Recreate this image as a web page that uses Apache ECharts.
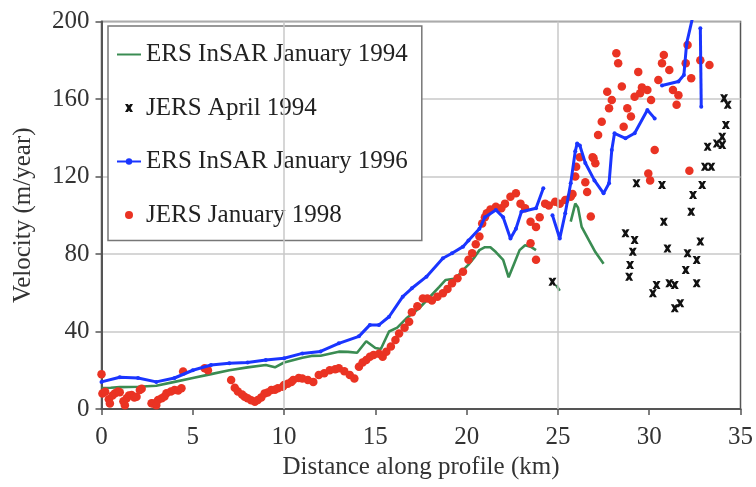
<!DOCTYPE html>
<html>
<head>
<meta charset="utf-8">
<script src="https://cdn.jsdelivr.net/npm/echarts@6/dist/echarts.min.js"></script>
<style>html,body{margin:0;padding:0;background:#fff}#chart{width:756px;height:487px}</style>
</head>
<body>
<div id="chart"></div>
<script>
// ---- axis ticks ----
const xTicks = [0, 5, 10, 15, 20, 25, 30, 35];
const yTicks = [0, 40, 80, 120, 160, 200];
const xGridLines = [10, 25];

// ---- series names ----
const names = ['ERS InSAR January 1994', 'JERS April 1994', 'ERS InSAR January 1996', 'JERS January 1998'];

// ---- ERS InSAR January 1994 (green line, three pieces) ----
const ers1994a = [[0,10.8],[0.5,11],[1,11.3],[2,11.5],[3,12],[4,14],[5,16],[6,18],[7,20],[8,21.5],[9,22.7],[9.5,21.5],[10,24],[11,26.5],[11.5,27.4],[12,27.5],[13,29.6],[13.5,29.5],[14,29],[14.5,35],[15,31.5],[15.3,31],[15.75,40],[16.2,42],[16.7,46.8],[17.4,52],[17.8,56],[18.5,63],[18.85,66.6],[19.4,67.4],[19.8,71.7],[20.1,74.5],[20.4,78],[20.7,82],[21,83.5],[21.3,83.5],[21.6,81],[22,77],[22.3,68],[22.6,75],[22.9,82],[23.2,84.5],[23.5,83.8],[23.8,82]];
const ers1994b = [[24.9,64],[25.1,61]];
const ers1994c = [[25.7,96.7],[25.95,106],[26.1,104],[26.3,94],[26.7,87],[27.05,81],[27.5,75]];

// ---- ERS InSAR January 1996 (blue line, pieces) ----
const ers1996a = [[0,14],[1,16.4],[2,16],[3,14],[4,16],[5,20],[6,22.7],[7,23.6],[8,24],[9,25.3],[10,26.2],[11,28.7],[12,29.7],[13,33.9],[14.1,37.5],[14.7,43.4],[15.2,43.4],[15.75,47.6],[16.5,58],[17,62.3],[17.8,68.3],[18.7,77.8],[19.2,80.4],[19.8,83.8],[20.1,87],[20.7,93],[21,99],[21.6,102.7],[22,99],[22.4,88],[22.7,93],[23,101.8],[23.8,103.6],[24.2,113.9]];
const ers1996b = [[24.7,100],[25.1,88],[25.4,101],[25.7,116.5],[25.95,133],[26.05,137],[26.2,136],[26.5,127],[27,118],[27.5,111.3],[27.8,116.5],[27.95,133.7],[28.1,142.3],[28.7,139.7],[29.2,142.3],[29.9,154.3],[30.3,150]];
const ers1996c = [[30.7,167],[31.6,169],[31.9,172.4],[32.05,188.7],[32.4,203]];
const ers1996d = [[32.8,196.5],[32.85,156]];

// ---- JERS April 1994 (black crosses) ----
const jers1994 = [[24.7,65.7],[28.7,90.7],[28.95,74.3],[28.9,68.3],[29.1,81.2],[29.2,87.2],[29.3,116.5],[30.2,59.7],[30.4,64],[30.7,115.6],[30.8,96.7],[31.0,82.9],[31.1,64.9],[31.4,64],[31.4,52],[31.7,54.6],[32.0,71.7],[32.1,80.4],[32.3,101.8],[32.4,110.5],[32.6,76.9],[32.6,64.9],[32.8,86.4],[32.9,115.6],[33.05,125],[33.2,135.4],[33.4,125],[33.7,137],[34.0,140.5],[34.0,136.3],[34.2,146.6],[34.1,160.4],[34.3,157]];

// ---- JERS January 1998 (red dots) ----
const jers1998 = [[0,18],[0.05,8],[0.2,8.9],[0.4,5],[0.46,2.9],[0.6,7],[0.74,8.1],[0.9,9],[1.0,8.6],[1.2,4],[1.28,2],[1.38,5.5],[1.5,7],[1.65,7.2],[1.8,6],[1.92,6.3],[2.1,9.8],[2.2,10.5],[2.74,3],[2.83,2.9],[3.0,2],[3.1,4.6],[3.3,5.5],[3.45,6.5],[3.56,8.1],[3.8,9],[4.0,9.8],[4.2,9.5],[4.38,10.7],[4.47,19.3],[5.65,21],[5.83,20],[7.1,15],[7.3,11],[7.47,9],[7.7,7.5],[7.84,6.3],[8.0,5.5],[8.2,4.5],[8.4,3.7],[8.56,4.6],[8.75,6],[8.93,8],[9.1,8.5],[9.3,9.8],[9.5,10],[9.66,10.7],[9.93,11.5],[10.0,12.4],[10.2,13],[10.4,14],[10.5,15],[10.8,16],[11.0,15.8],[11.3,15],[11.6,14],[11.9,17.5],[12.2,18.5],[12.5,20],[12.8,20.5],[13.0,21],[13.3,19.5],[13.6,17.5],[13.85,15.8],[14.1,21.8],[14.3,24],[14.5,25.3],[14.7,27],[14.9,27.9],[15.2,28.5],[15.4,27],[15.6,29.5],[15.85,32.2],[16.1,35.6],[16.3,39],[16.6,42],[16.85,45],[17.0,50],[17.3,53],[17.6,57],[17.85,57],[18.1,56],[18.4,58],[18.7,59.7],[18.95,62],[19.2,64.9],[19.5,67.5],[19.8,70.9],[20.1,77],[20.3,80.4],[20.5,85],[20.7,89],[20.85,95.8],[21.0,99],[21.1,101],[21.3,103],[21.6,104.4],[21.9,103.6],[22.1,106],[22.4,109.6],[22.7,111.3],[22.95,106],[23.2,103.6],[23.5,96.7],[23.8,94],[24.0,99],[23.5,85.5],[23.8,77],[24.3,106],[24.5,105],[24.85,107],[25.1,106],[25.4,107.9],[25.7,109.6],[25.8,111],[25.95,120],[26.0,125],[26.2,130],[26.5,117],[26.6,112],[26.8,99.3],[26.9,130],[27.05,126.8],[26.95,129.4],[27.2,141.4],[27.4,148.3],[27.8,155.2],[27.95,159.5],[27.7,163.8],[28.2,183.6],[28.3,178.4],[28.5,166.4],[28.6,145.7],[28.8,155.2],[29.0,151],[29.2,161.2],[29.4,174],[29.5,163],[29.6,166],[29.9,164.6],[30.1,159.5],[29.95,121.6],[30.05,118],[30.3,133.7],[30.5,169.8],[30.7,178.4],[30.8,182.7],[31.1,175],[31.3,164.6],[31.6,162],[31.5,157],[32.0,178.4],[32.1,187.9],[32.3,170.7],[32.2,123],[32.8,180],[33.3,177.5]];

// ---- styles ----
const FONT = "'Liberation Serif', 'DejaVu Serif', serif";
const GREEN = '#3a8c52', BLUE = '#1a35ff', RED = '#ea3323', BLACK = '#111';
const crossPath = 'path://M0,0L3.5,0L5,2L6.5,0L10,0L7,5L10,10L6.5,10L5,8L3.5,10L0,10L3,5Z';

function lineSeries(name, data, color, withDots, extra) {
  return Object.assign({
    name: name, type: 'line', data: data,
    showSymbol: withDots, symbol: withDots ? 'circle' : 'none', symbolSize: withDots ? 4 : 0,
    lineStyle: { color: color, width: withDots ? 3 : 2.6 },
    itemStyle: { color: color },
    animation: false, z: 3
  }, extra || {});
}

const chart = echarts.init(document.getElementById('chart'), null, { renderer: 'canvas' });
chart.setOption({
  backgroundColor: '#fff',
  animation: false,
  textStyle: { fontFamily: FONT },
  grid: { left: 101.5, right: 14, top: 21.5, bottom: 78, show: true, borderColor: '#555', borderWidth: 1.5, backgroundColor: 'transparent' },
  legend: {
    data: [
      { name: names[0], itemStyle: { opacity: 0 } },
      { name: names[1] },
      { name: names[2] },
      { name: names[3] }
    ],
    orient: 'vertical',
    left: 108, top: 26,
    padding: [16, 14, 13, 8],
    itemGap: 28.5,
    itemWidth: 24, itemHeight: 8,
    backgroundColor: '#fff',
    borderColor: '#777', borderWidth: 1.5,
    textStyle: { fontFamily: FONT, fontSize: 25, color: '#222' }
  },
  xAxis: {
    type: 'value', min: xTicks[0], max: xTicks[xTicks.length - 1], interval: xTicks[1] - xTicks[0],
    name: 'Distance along profile (km)', nameLocation: 'middle', nameGap: 46,
    nameTextStyle: { fontFamily: FONT, fontSize: 25, color: '#333' },
    axisLine: { lineStyle: { color: '#555', width: 2 } },
    axisTick: { inside: false, length: 6, lineStyle: { color: '#555', width: 1.5 } },
    axisLabel: { fontFamily: FONT, fontSize: 25, color: '#333', margin: 16 },
    splitLine: { show: false }
  },
  yAxis: {
    type: 'value', min: yTicks[0], max: yTicks[yTicks.length - 1], interval: yTicks[1] - yTicks[0],
    name: 'Velocity (m/year)', nameLocation: 'middle', nameGap: 66,
    nameTextStyle: { fontFamily: FONT, fontSize: 25, color: '#333' },
    axisLine: { lineStyle: { color: '#555', width: 2 } },
    axisTick: { inside: false, length: 6, lineStyle: { color: '#555', width: 1.5 } },
    axisLabel: { fontFamily: FONT, fontSize: 25, color: '#333', margin: 12 },
    splitLine: { show: true, lineStyle: { color: '#c8c8c8', width: 1.5 } }
  },
  series: [
    lineSeries(names[0], ers1994a, GREEN, false, {
      markLine: { silent: true, symbol: 'none', label: { show: false },
        lineStyle: { color: '#c8c8c8', width: 1.5, type: 'solid' },
        data: xGridLines.map(v => ({ xAxis: v })) }, z: 1 }),
    lineSeries(names[0], ers1994b, GREEN, false),
    lineSeries(names[0], ers1994c, GREEN, false),
    { name: names[3], type: 'scatter', data: jers1998, symbol: 'circle', symbolSize: 8.5,
      itemStyle: { color: RED, opacity: 1 }, z: 4 },
    lineSeries(names[2], ers1996a, BLUE, true, { z: 5 }),
    lineSeries(names[2], ers1996b, BLUE, true, { z: 5 }),
    lineSeries(names[2], ers1996c, BLUE, true, { z: 5 }),
    lineSeries(names[2], ers1996d, BLUE, true, { z: 5 }),
    { name: names[1], type: 'scatter', data: jers1994, symbol: crossPath, symbolSize: 8,
      itemStyle: { color: BLACK, opacity: 1 }, z: 6 }
  ]
});
</script>
</body>
</html>
